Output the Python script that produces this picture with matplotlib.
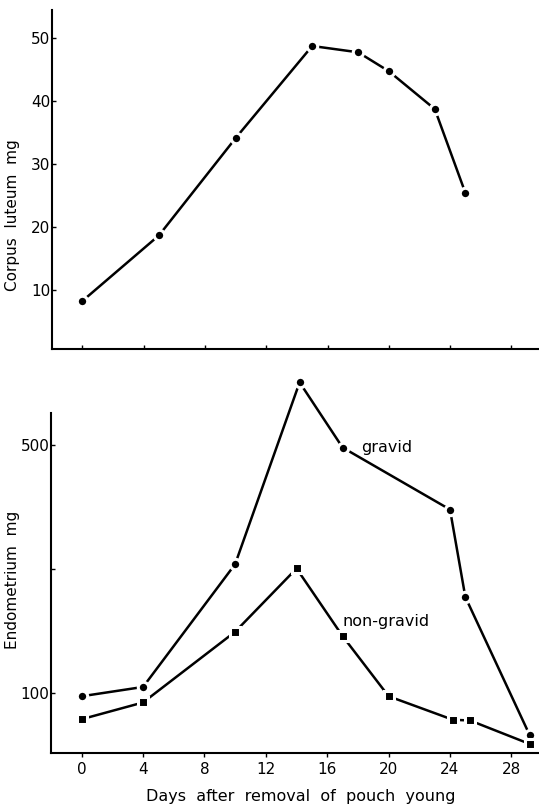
import numpy as np
import matplotlib
matplotlib.use("Agg")
import matplotlib.pyplot as plt

# corpus luteum weight (mg) against day
cl_days = [0, 5, 10, 15, 18, 20, 23, 25]
cl_mg = [8.3, 18.7, 34.1, 48.7, 47.7, 44.7, 38.7, 25.4]

# endometrium weight (mg), gravid and non-gravid horns
gr_days = [0, 4, 10, 14.2, 17, 24, 25, 29.2]
gr_mg = [95, 110, 308, 601, 496, 396, 255, 32]
ng_days = [0, 4, 10, 14, 17, 20, 24.2, 25.3, 29.2]
ng_mg = [58, 85, 199, 301, 192, 95, 57, 56, 18]

day_ticks = [0, 4, 8, 12, 16, 20, 24, 28]

plt.rcParams['font.family'] = ['DejaVu Sans']
W, H = 539, 806
fig = plt.figure(figsize=(W / 100, H / 100), dpi=100)

def px(x0, y0, x1, y1):
    return [x0 / W, 1 - y1 / H, (x1 - x0) / W, (y1 - y0) / H]

mk = dict(color='black', lw=1.8, marker='o', ms=7.5, mfc='black',
          mec='white', mew=2.2, clip_on=False)

# top panel
ax1 = fig.add_axes(px(51.7, 10, 539, 349))
ax1.plot(cl_days, cl_mg, **mk)
ax1.set_xlim(-2, 29.8)
ax1.set_ylim(0.7, 54.4)
ax1.set_xticks(day_ticks)
ax1.set_xticklabels([])
ax1.set_yticks([10, 20, 30, 40, 50])
ax1.tick_params(axis='x', direction='in', length=3, width=1)
ax1.tick_params(axis='y', direction='in', length=3, width=1, labelsize=11, pad=1)
for s in ['top', 'right']:
    ax1.spines[s].set_visible(False)
for s in ['left', 'bottom']:
    ax1.spines[s].set_linewidth(1.5)
fig.text(13 / W, 1 - 215 / H, 'Corpus  luteum  mg', rotation=90,
         ha='center', va='center', fontsize=11)

# bottom panel
ax2 = fig.add_axes(px(51, 376.8, 539, 752.7))
ax2.plot(gr_days, gr_mg, **mk)
sq = dict(mk)
sq['marker'] = 's'
sq['ms'] = 7
ax2.plot(ng_days, ng_mg, **sq)
ax2.set_xlim(-2, 29.8)
ax2.set_ylim(4, 610)
ax2.spines['left'].set_bounds(4, 551)
ax2.set_xticks(day_ticks)
ax2.set_yticks([100, 300, 500])
ax2.set_yticklabels(['100', '', '500'])
ax2.tick_params(axis='x', direction='out', length=3, width=1, labelsize=11, pad=4)
ax2.tick_params(axis='y', direction='in', length=3, width=1, labelsize=11, pad=1)
for s in ['top', 'right']:
    ax2.spines[s].set_visible(False)
for s in ['left', 'bottom']:
    ax2.spines[s].set_linewidth(1.5)
ax2.text(18.2, 496, 'gravid', fontsize=11.5, va='center', ha='left')
ax2.text(17.0, 215, 'non-gravid', fontsize=11.5, va='center', ha='left')
fig.text(13 / W, 1 - 580 / H, 'Endometrium  mg', rotation=90,
         ha='center', va='center', fontsize=11)
fig.text(301 / W, 1 - 797 / H, 'Days  after  removal  of  pouch  young',
         ha='center', va='center', fontsize=11.5)

fig.savefig('out.png', dpi=100)
